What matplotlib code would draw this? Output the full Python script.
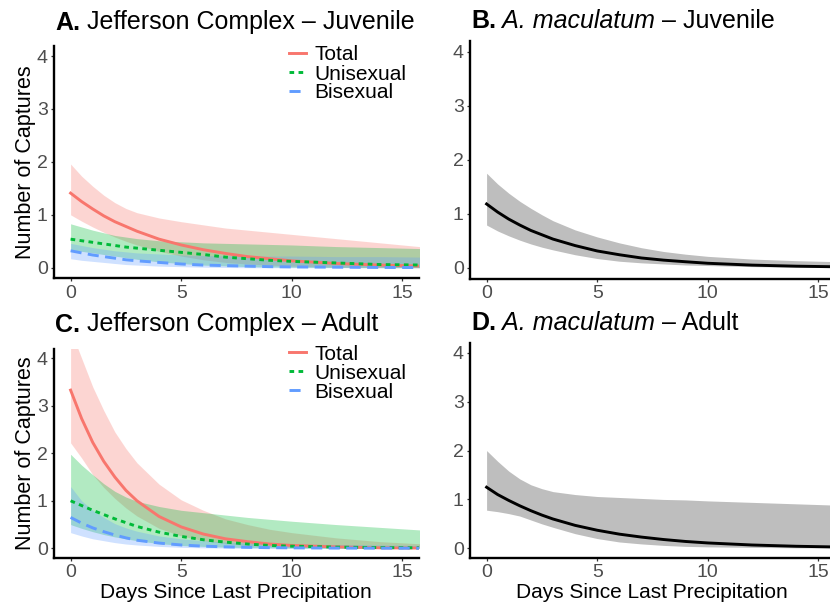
import matplotlib
matplotlib.use("Agg")
import matplotlib.pyplot as plt

plt.rcParams['font.family'] = ['Liberation Sans', 'DejaVu Sans']

# ---------------- data ----------------
days = [0, 0.5, 1, 1.5, 2, 2.5, 3, 4, 5, 6, 7, 8, 9, 10, 12, 14, 16]
series_names = ["Total", "Unisexual", "Bisexual"]

# Panel A: Jefferson Complex - Juvenile
a_total_fit = [1.41, 1.25, 1.11, 0.98, 0.87, 0.78, 0.69, 0.54, 0.43, 0.34, 0.27, 0.21, 0.17, 0.13, 0.08, 0.05, 0.03]
a_total_hi = [1.96, 1.73, 1.54, 1.37, 1.23, 1.12, 1.04, 0.94, 0.87, 0.81, 0.75, 0.71, 0.67, 0.63, 0.55, 0.47, 0.39]
a_total_lo = [1.00, 0.88, 0.77, 0.67, 0.58, 0.50, 0.43, 0.31, 0.22, 0.15, 0.10, 0.07, 0.05, 0.03, 0.01, 0.005, 0.0]
a_uni_fit = [0.54, 0.51, 0.48, 0.45, 0.42, 0.39, 0.37, 0.33, 0.29, 0.25, 0.20, 0.17, 0.14, 0.12, 0.09, 0.06, 0.05]
a_uni_hi = [0.83, 0.77, 0.71, 0.66, 0.61, 0.58, 0.55, 0.51, 0.49, 0.47, 0.46, 0.45, 0.44, 0.43, 0.40, 0.38, 0.36]
a_uni_lo = [0.34, 0.31, 0.28, 0.25, 0.22, 0.19, 0.16, 0.11, 0.08, 0.05, 0.035, 0.02, 0.015, 0.01, 0.005, 0.0, 0.0]
a_bi_fit = [0.32, 0.28, 0.24, 0.21, 0.18, 0.15, 0.13, 0.10, 0.07, 0.05, 0.04, 0.03, 0.02, 0.015, 0.01, 0.005, 0.003]
a_bi_hi = [0.46, 0.42, 0.38, 0.35, 0.32, 0.30, 0.28, 0.26, 0.24, 0.23, 0.225, 0.22, 0.22, 0.22, 0.21, 0.21, 0.20]
a_bi_lo = [0.17, 0.14, 0.12, 0.10, 0.08, 0.06, 0.05, 0.03, 0.02, 0.01, 0.005, 0.0, 0.0, 0.0, 0.0, 0.0, 0.0]

# Panel B: A. maculatum - Juvenile
b_fit = [1.18, 1.03, 0.90, 0.79, 0.69, 0.61, 0.53, 0.41, 0.31, 0.24, 0.18, 0.14, 0.11, 0.082, 0.048, 0.028, 0.016]
b_hi = [1.75, 1.55, 1.38, 1.23, 1.10, 0.98, 0.87, 0.70, 0.57, 0.46, 0.37, 0.30, 0.25, 0.21, 0.16, 0.13, 0.11]
b_lo = [0.79, 0.68, 0.59, 0.51, 0.44, 0.38, 0.33, 0.24, 0.17, 0.12, 0.09, 0.07, 0.05, 0.04, 0.02, 0.01, 0.005]

# Panel C: Jefferson Complex - Adult
c_total_fit = [3.33, 2.73, 2.23, 1.83, 1.50, 1.22, 1.00, 0.67, 0.45, 0.30, 0.20, 0.14, 0.09, 0.06, 0.03, 0.01, 0.005]
c_total_hi = [4.60, 4.00, 3.40, 2.90, 2.45, 2.10, 1.80, 1.35, 1.02, 0.80, 0.62, 0.50, 0.40, 0.33, 0.22, 0.14, 0.09]
c_total_lo = [2.22, 1.90, 1.55, 1.28, 1.05, 0.85, 0.68, 0.42, 0.26, 0.16, 0.10, 0.06, 0.04, 0.02, 0.01, 0.0, 0.0]
c_uni_fit = [1.00, 0.90, 0.80, 0.71, 0.62, 0.54, 0.46, 0.34, 0.25, 0.18, 0.13, 0.09, 0.06, 0.045, 0.025, 0.015, 0.01]
c_uni_hi = [1.98, 1.75, 1.55, 1.36, 1.20, 1.08, 0.99, 0.88, 0.80, 0.75, 0.70, 0.65, 0.61, 0.57, 0.50, 0.44, 0.38]
c_uni_lo = [0.50, 0.42, 0.35, 0.29, 0.24, 0.20, 0.16, 0.10, 0.06, 0.04, 0.025, 0.015, 0.01, 0.005, 0.0, 0.0, 0.0]
c_bi_fit = [0.65, 0.53, 0.43, 0.35, 0.28, 0.22, 0.17, 0.11, 0.07, 0.045, 0.03, 0.02, 0.013, 0.009, 0.004, 0.002, 0.001]
c_bi_hi = [1.30, 1.00, 0.80, 0.65, 0.52, 0.43, 0.36, 0.26, 0.20, 0.16, 0.13, 0.11, 0.10, 0.09, 0.08, 0.07, 0.06]
c_bi_lo = [0.33, 0.26, 0.20, 0.16, 0.12, 0.09, 0.07, 0.04, 0.02, 0.01, 0.005, 0.0, 0.0, 0.0, 0.0, 0.0, 0.0]

# Panel D: A. maculatum - Adult
d_fit = [1.25, 1.10, 0.98, 0.87, 0.77, 0.68, 0.60, 0.47, 0.37, 0.29, 0.23, 0.18, 0.14, 0.11, 0.068, 0.042, 0.026]
d_hi = [2.00, 1.78, 1.58, 1.42, 1.30, 1.22, 1.16, 1.10, 1.06, 1.04, 1.02, 1.00, 0.99, 0.97, 0.94, 0.91, 0.88]
d_lo = [0.78, 0.75, 0.71, 0.66, 0.58, 0.50, 0.43, 0.30, 0.20, 0.13, 0.09, 0.06, 0.04, 0.03, 0.02, 0.01, 0.01]

x_ticks = [0, 5, 10, 15]
y_ticks = [0, 1, 2, 3, 4]
x_label = "Days Since Last Precipitation"
y_label = "Number of Captures"

# ---------------- style ----------------
RED, GREEN, BLUE = "#F8766D", "#00BA38", "#619CFF"
LW = 2.1
STYLES = ["-", (0, (1.6, 1.5)), (0, (3.8, 2.2))]
W, H = 830, 603
TITLE_FS = 18

fig = plt.figure(figsize=(W / 100, H / 100), dpi=100)


def make_ax(left, right, top, bottom):
    return fig.add_axes([left / W, 1 - bottom / H, (right - left) / W, (bottom - top) / H])


def style_ax(ax):
    ax.set_xlim(-0.75, 15.75)
    ax.set_ylim(-0.2, 4.2)
    ax.set_xticks(x_ticks)
    ax.set_yticks(y_ticks)
    for s in ["top", "right"]:
        ax.spines[s].set_visible(False)
    for s in ["left", "bottom"]:
        ax.spines[s].set_linewidth(1.7)
        ax.spines[s].set_color("black")
    ax.tick_params(length=2.5, width=0.9, color="#333333", labelsize=14,
                   labelcolor="#4D4D4D", pad=2)


def chain_title(x_px, y_px, parts):
    t = fig.text(x_px / W, 1 - y_px / H, parts[0][0], fontsize=TITLE_FS, va="baseline",
                 ha="left", **parts[0][1])
    for txt, kw in parts[1:]:
        t = fig.add_artist(matplotlib.text.Annotation(
            txt, xy=(1, 0), xycoords=t, va="bottom", ha="left", fontsize=TITLE_FS,
            annotation_clip=False, **kw))
    return t


def jefferson(ax, tot, uni, bi, anchor_y):
    for (fit, lo, hi), col in zip([tot, uni, bi], [RED, GREEN, BLUE]):
        ax.fill_between(days, lo, hi, color=col, alpha=0.3, linewidth=0)
    handles = []
    for (fit, lo, hi), col, ls, name in zip([tot, uni, bi], [RED, GREEN, BLUE], STYLES, series_names):
        ln, = ax.plot(days, fit, color=col, lw=LW, linestyle=ls, label=name)
        handles.append(ln)
    leg = ax.legend(handles=handles, loc="upper left", frameon=False, fontsize=15,
                    bbox_to_anchor=(0.645, anchor_y), borderpad=0, borderaxespad=0,
                    handlelength=0.8, handletextpad=0.38, labelspacing=0.0)
    return leg


def mac(ax, fit, lo, hi):
    ax.fill_between(days, lo, hi, color="#BEBEBE", linewidth=0)
    ax.plot(days, fit, color="black", lw=LW)


axA = make_ax(54, 419, 45.5, 278.3)
axB = make_ax(470, 835, 40.9, 278.5)
axC = make_ax(54, 419, 348.8, 557.8)
axD = make_ax(470, 835, 343.0, 558.1)
for ax in (axA, axB, axC, axD):
    style_ax(ax)

jefferson(axA, (a_total_fit, a_total_lo, a_total_hi), (a_uni_fit, a_uni_lo, a_uni_hi),
          (a_bi_fit, a_bi_lo, a_bi_hi), 1.0)
jefferson(axC, (c_total_fit, c_total_lo, c_total_hi), (c_uni_fit, c_uni_lo, c_uni_hi),
          (c_bi_fit, c_bi_lo, c_bi_hi), 1.02)
mac(axB, b_fit, b_lo, b_hi)
mac(axD, d_fit, d_lo, d_hi)

chain_title(55, 29.5, [("A.", {"fontweight": "bold"}), (" Jefferson Complex \u2013 Juvenile", {})])
chain_title(471, 28.5, [("B.", {"fontweight": "bold"}), (" A. maculatum", {"fontstyle": "italic"}),
                        (" \u2013 Juvenile", {})])
chain_title(55, 331.5, [("C.", {"fontweight": "bold"}), (" Jefferson Complex \u2013 Adult", {})])
chain_title(471, 330.5, [("D.", {"fontweight": "bold"}), (" A. maculatum", {"fontstyle": "italic"}),
                         (" \u2013 Adult", {})])

fig.text(25 / W, 1 - 162 / H, y_label, rotation=90, fontsize=15.5, ha="center", va="center")
fig.text(25 / W, 1 - 453 / H, y_label, rotation=90, fontsize=15.5, ha="center", va="center")
fig.text(236 / W, 1 - 592 / H, x_label, fontsize=15, ha="center", va="center")
fig.text(652 / W, 1 - 593 / H, x_label, fontsize=15, ha="center", va="center")

fig.savefig("out.png", dpi=100)
